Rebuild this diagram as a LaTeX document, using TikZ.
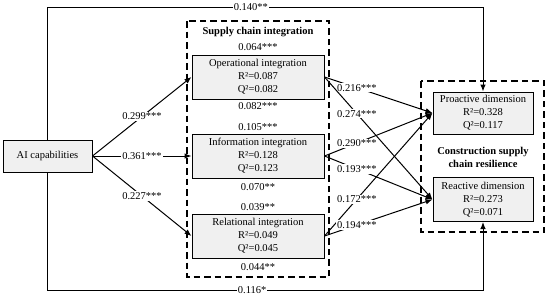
\documentclass[tikz,border=0pt]{standalone}
\usepackage{fontspec}
\setmainfont{Liberation Serif}
\usetikzlibrary{arrows.meta}
\definecolor{boxgray}{RGB}{240,240,240}
\begin{document}
\begin{tikzpicture}[x=1pt,y=-1pt,
  every node/.style={font=\fontsize{10.5}{13}\selectfont},
  box/.style={draw, line width=1pt, fill=boxgray, align=center, inner sep=0pt},
  grp/.style={draw, line width=1.1pt, dash pattern=on 6.5pt off 4pt},
  lab/.style={fill=white, inner sep=1pt},
  ttl/.style={font=\fontsize{10.5}{13}\selectfont\bfseries, align=center},
  arr/.style={line width=1pt, -{Latex[length=7pt,width=5.5pt]}},
  ]
\useasboundingbox (0,0) rectangle (550,297);
% group frames
\draw[grp] (187,21) rectangle (329,277);
\draw[grp] (421,81) rectangle (544,232);
\node[ttl] (scititle) at (258,32) {Supply chain integration};
\node[ttl] (csrtitle) at (483,157.5) {Construction supply\\chain resilience};
% boxes
\node[box, minimum width=89pt, minimum height=32pt] (ai) at (47.5,156) {AI capabilities};
\node[box, minimum width=132pt, minimum height=44pt] (op) at (258,77) {Operational integration\\R²=0.087\\Q²=0.082};
\node[box, minimum width=132pt, minimum height=44pt] (info) at (258,156) {Information integration\\R²=0.128\\Q²=0.123};
\node[box, minimum width=132pt, minimum height=44pt] (rel) at (258,236) {Relational integration\\R²=0.049\\Q²=0.045};
\node[box, minimum width=100pt, minimum height=42pt] (pro) at (483,113) {Proactive dimension\\R²=0.328\\Q²=0.117};
\node[box, minimum width=100pt, minimum height=44pt] (rea) at (483,199.5) {Reactive dimension\\R²=0.273\\Q²=0.071};
% values above/below boxes
\node (v1) at (258,47) {0.064***};
\node (v2) at (258,106) {0.082***};
\node (v3) at (258,127) {0.105***};
\node (v4) at (258,187) {0.070**};
\node (v5) at (258,207) {0.039**};
\node (v6) at (258,267) {0.044**};
% helper coordinates
\coordinate (topy) at (0,7);
\coordinate (boty) at (0,290);
% direct paths
\draw[arr] (ai.north) -- (ai.north |- topy) -- node[pos=0.467, lab] {0.140**} (pro.north |- topy) -- (pro.north);
\draw[arr] (ai.south) -- (ai.south |- boty) -- node[pos=0.47, lab] {0.116*} (rea.south |- boty) -- (rea.south);
% AI to SCI
\draw[arr] (ai.east) -- node[lab] {0.299***} (op.west);
\draw[arr] (ai.east) -- node[lab] {0.361***} (info.west);
\draw[arr] (ai.east) -- node[lab] {0.227***} (rel.west);
% SCI to CSR
\draw[arr] (op.east) -- node[pos=0.3, lab] {0.216***} (pro.west);
\draw[arr] (op.east) -- node[pos=0.3, lab] {0.274***} (rea.west);
\draw[arr] (info.east) -- node[pos=0.3, lab] {0.290***} (pro.west);
\draw[arr] (info.east) -- node[pos=0.3, lab] {0.193***} (rea.west);
\draw[arr] (rel.east) -- node[pos=0.3, lab] {0.172***} (pro.west);
\draw[arr] (rel.east) -- node[pos=0.3, lab] {0.194***} (rea.west);
\end{tikzpicture}
\end{document}
